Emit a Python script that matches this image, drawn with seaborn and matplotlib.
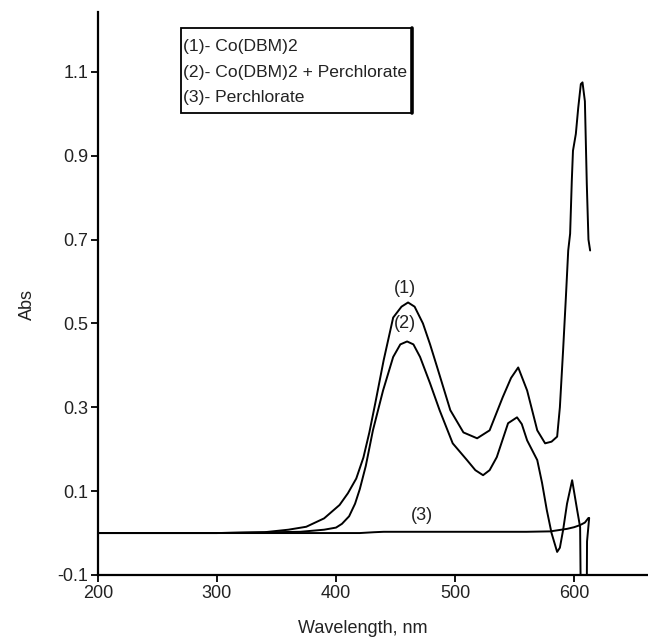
import matplotlib
matplotlib.use("Agg")
import matplotlib.pyplot as plt
import matplotlib.patches as mpatches
import pandas as pd
import seaborn as sns

# curve (1) Co(DBM)2
wl_1 = [200, 300, 340, 360, 375, 390, 403, 410, 417, 423, 428, 433, 440, 448, 455, 460.5, 466, 473,
        479, 485, 496, 507, 518.5, 529, 540, 547, 553, 560.5, 569, 575.6, 581, 585.7, 588, 590.7,
        593, 595, 596.6, 598, 599, 601.4, 603.4, 605.6, 607, 609, 610.6, 612, 613.4]
abs_1 = [0.0, 0.0, 0.002, 0.008, 0.015, 0.035, 0.067, 0.095, 0.13, 0.18, 0.24, 0.31, 0.412, 0.514,
         0.54, 0.55, 0.54, 0.5, 0.45, 0.395, 0.293, 0.24, 0.226, 0.245, 0.324, 0.37, 0.395, 0.34,
         0.245, 0.214, 0.218, 0.23, 0.3, 0.436, 0.56, 0.674, 0.714, 0.84, 0.912, 0.952, 1.014,
         1.071, 1.075, 1.03, 0.833, 0.70, 0.674]

# curve (2) Co(DBM)2 + Perchlorate
wl_2 = [200, 300, 370, 390, 400, 405, 411, 416, 420, 425, 431, 439.5, 448, 454, 459.7, 465, 470.6,
        479, 487, 498, 510, 517, 523.5, 529, 535, 544.5, 552, 556, 560.5, 569, 573, 577, 581,
        585.7, 588, 590.7, 594, 598.3, 602.5, 605, 606, 610.3, 610.8, 612.6]
abs_2 = [0.0, 0.0, 0.003, 0.008, 0.013, 0.022, 0.04, 0.07, 0.105, 0.16, 0.245, 0.34, 0.42, 0.45,
         0.457, 0.45, 0.42, 0.357, 0.293, 0.214, 0.174, 0.15, 0.138, 0.15, 0.181, 0.262, 0.276,
         0.26, 0.221, 0.174, 0.12, 0.055, 0.0, -0.045, -0.035, 0.007, 0.07, 0.126, 0.055, 0.014,
         -0.3, -0.3, -0.02, 0.036]

# curve (3) Perchlorate
wl_3 = [200, 300, 420, 432, 440, 500, 560, 580, 594, 600, 605, 609, 612]
abs_3 = [0.0, 0.0, 0.0, 0.002, 0.003, 0.003, 0.003, 0.004, 0.01, 0.014, 0.019, 0.025, 0.036]

legend_lines = ["(1)- Co(DBM)2", "(2)- Co(DBM)2 + Perchlorate", "(3)- Perchlorate"]
curve_labels = ["(1)", "(2)", "(3)"]
label_x = [458, 458, 472]
label_y = [0.583, 0.5, 0.043]
y_ticks = [-0.1, 0.1, 0.3, 0.5, 0.7, 0.9, 1.1]
x_ticks = [200, 300, 400, 500, 600]

sns.set_style("ticks")
plt.rcParams["font.family"] = ["Liberation Sans", "DejaVu Sans"]

frame = pd.concat(
    [
        pd.DataFrame({"wl": wl_1, "abs": abs_1, "curve": "1"}),
        pd.DataFrame({"wl": wl_2, "abs": abs_2, "curve": "2"}),
        pd.DataFrame({"wl": wl_3, "abs": abs_3, "curve": "3"}),
    ],
    ignore_index=True,
)

fig = plt.figure(figsize=(6.48, 6.42), dpi=100)
ax = fig.add_axes([0.151, 0.1044, 0.849, 0.877])

for name, sub in frame.groupby("curve"):
    sns.lineplot(data=sub, x="wl", y="abs", ax=ax, color="black", linewidth=1.4,
                 estimator=None, sort=False, legend=False)

ax.set_xlim(200, 662)
ax.set_ylim(-0.1, 1.243)
ax.set_xticks(x_ticks)
ax.set_yticks(y_ticks)
ax.set_yticklabels([f"{v:.1f}" for v in y_ticks])
ax.tick_params(labelsize=13, length=5, width=1.3, color="black", labelcolor="#222222", pad=2)
for side in ["top", "right"]:
    ax.spines[side].set_visible(False)
for side in ["left", "bottom"]:
    ax.spines[side].set_linewidth(1.6)
    ax.spines[side].set_color("black")

ax.set_xlabel("Wavelength, nm", fontsize=13, color="#222222")
ax.set_ylabel("Abs", fontsize=13, color="#222222")
ax.xaxis.set_label_coords(0.482, -0.08)
ax.yaxis.set_label_coords(-0.113, 0.48)

for txt, lx, ly in zip(curve_labels, label_x, label_y):
    ax.text(lx, ly, txt, fontsize=13, ha="center", va="center", color="#222222")

# legend box
box = mpatches.Rectangle((0.151, 0.8206), 0.42, 0.151, transform=ax.transAxes,
                         facecolor="white", edgecolor="black", linewidth=1.3, zorder=5)
ax.add_patch(box)
ax.plot([0.571, 0.571], [0.8206, 0.9716], transform=ax.transAxes, color="black",
        linewidth=2.6, zorder=6)
for i, line in enumerate(legend_lines):
    ax.text(0.155, 0.938 - i * 0.045, line, transform=ax.transAxes, fontsize=12.6,
            ha="left", va="center", color="#222222", zorder=7)

fig.savefig("out.png", dpi=100)
